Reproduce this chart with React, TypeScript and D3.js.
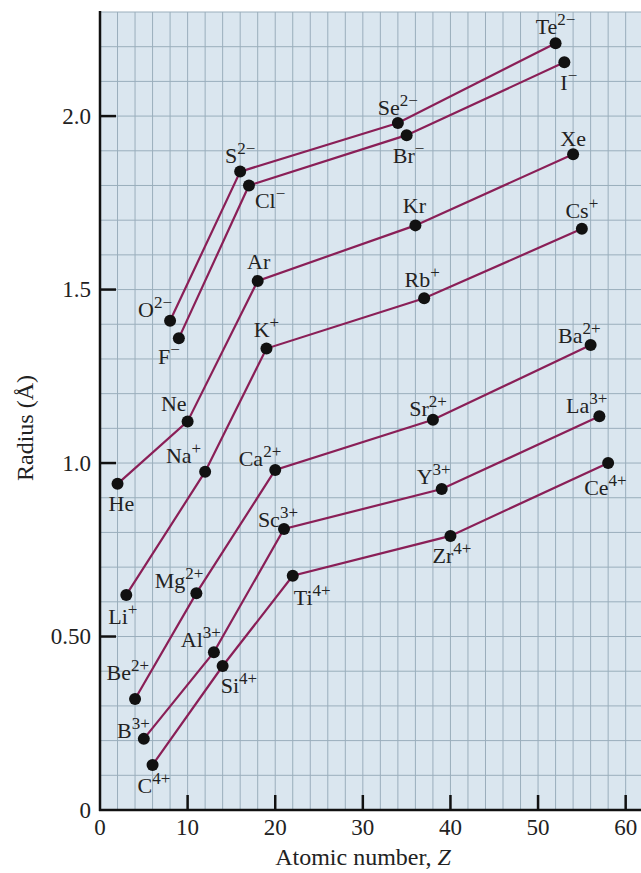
import React from 'react';
import * as d3 from 'd3';

// Ionic and atomic radii vs atomic number, one array set per series
const symDi = ['O', 'S', 'Se', 'Te'];
const zDi = [8, 16, 34, 52];
const rDi = [1.41, 1.84, 1.98, 2.21];

const symMono = ['F', 'Cl', 'Br', 'I'];
const zMono = [9, 17, 35, 53];
const rMono = [1.36, 1.8, 1.945, 2.155];

const symNoble = ['He', 'Ne', 'Ar', 'Kr', 'Xe'];
const zNoble = [2, 10, 18, 36, 54];
const rNoble = [0.94, 1.12, 1.525, 1.685, 1.89];

const symPlus1 = ['Li', 'Na', 'K', 'Rb', 'Cs'];
const zPlus1 = [3, 12, 19, 37, 55];
const rPlus1 = [0.62, 0.975, 1.33, 1.475, 1.675];

const symPlus2 = ['Be', 'Mg', 'Ca', 'Sr', 'Ba'];
const zPlus2 = [4, 11, 20, 38, 56];
const rPlus2 = [0.32, 0.625, 0.98, 1.125, 1.34];

const symPlus3 = ['B', 'Al', 'Sc', 'Y', 'La'];
const zPlus3 = [5, 13, 21, 39, 57];
const rPlus3 = [0.205, 0.455, 0.81, 0.925, 1.135];

const symPlus4 = ['C', 'Si', 'Ti', 'Zr', 'Ce'];
const zPlus4 = [6, 14, 22, 40, 58];
const rPlus4 = [0.13, 0.415, 0.675, 0.79, 1.0];

const charges = ['2−', '−', '', '+', '2+', '3+', '4+'];

const xTicks = [0, 10, 20, 30, 40, 50, 60];
const yTicks = [0, 0.5, 1.0, 1.5, 2.0];
const yTickLabels = ['0', '0.50', '1.0', '1.5', '2.0'];

const series = [
  [symDi, zDi, rDi],
  [symMono, zMono, rMono],
  [symNoble, zNoble, rNoble],
  [symPlus1, zPlus1, rPlus1],
  [symPlus2, zPlus2, rPlus2],
  [symPlus3, zPlus3, rPlus3],
  [symPlus4, zPlus4, rPlus4],
].map(([s, z, r], i) =>
  (s as string[]).map((sym, j) => ({ sym, charge: charges[i], z: (z as number[])[j], r: (r as number[])[j] }))
);

// label placement: anchor, dx, dy (baseline) relative to the dot
const labelPos: Record<string, [string, number, number]> = {
  Te: ['middle', 0, -9], I: ['start', -4, 28], Se: ['middle', 0, -8], Br: ['middle', 2, 28],
  S: ['middle', 0, -9], Cl: ['start', 6, 23], O: ['end', 2, -4], F: ['end', 1, 26],
  He: ['start', -9, 27], Ne: ['end', -1, -10], Ar: ['middle', 1, -12], Kr: ['middle', -1, -12],
  Xe: ['middle', 0, -8], Li: ['start', -18, 29], Na: ['end', -4, -9], K: ['middle', 0, -12],
  Rb: ['middle', -2, -11], Cs: ['middle', 0, -11], Be: ['end', 14, -19], Mg: ['end', 7, -5],
  Ca: ['end', 6, -4], Sr: ['end', 14, -4], Ba: ['end', 10, -2], B: ['end', 6, -1],
  Al: ['end', 7, -5], Sc: ['end', 14, -2], Y: ['end', 9, -5], La: ['end', 8, -3],
  C: ['start', -15, 28], Si: ['start', -2, 27], Ti: ['start', 1, 29], Zr: ['start', -18, 27],
  Ce: ['start', -24, 32],
};

const W = 641;
const H = 873;
const left = 100;
const bottom = 810;
const top = 12;

const App = () => {
  const x = d3.scaleLinear().domain([0, 61.75]).range([left, W]);
  const y = d3.scaleLinear().domain([0, 2.3]).range([bottom, top]);
  const line = d3
    .line<{ z: number; r: number }>()
    .x(d => x(d.z))
    .y(d => y(d.r));

  const vGrid = d3.range(2, 62, 2);
  const hGrid = d3.range(1, 24).map(d => d / 10);
  const font = '"Liberation Serif", "Times New Roman", serif';
  const lineColor = '#8a1f57';

  return (
    <svg width={W} height={H} style={{ position: 'absolute', left: 0, top: 0, background: '#fff' }} fontFamily={font}>
      <rect x={left} y={top} width={W - left} height={bottom - top} fill="#dae6ef" />
      {vGrid.map(v => (
        <line key={'v' + v} x1={x(v)} x2={x(v)} y1={top} y2={bottom} stroke="#9aaebc" strokeWidth={1} />
      ))}
      {hGrid.map(v => (
        <line key={'h' + v} x1={left} x2={W} y1={y(v)} y2={y(v)} stroke="#9aaebc" strokeWidth={1} />
      ))}

      {/* axes */}
      <line x1={left} x2={left} y1={top - 1} y2={bottom + 1} stroke="#111" strokeWidth={2.5} />
      <line x1={left - 1} x2={W} y1={bottom} y2={bottom} stroke="#111" strokeWidth={2.5} />
      {xTicks.map(t => (
        <g key={'xt' + t}>
          {t > 0 && <line x1={x(t)} x2={x(t)} y1={bottom} y2={bottom - 15} stroke="#111" strokeWidth={2.5} />}
          <text x={x(t)} y={835} fontSize={23} textAnchor="middle" fill="#222">{t}</text>
        </g>
      ))}
      {yTicks.map((t, i) => (
        <g key={'yt' + t}>
          {t > 0 && <line x1={left} x2={left + 16} y1={y(t)} y2={y(t)} stroke="#111" strokeWidth={2.5} />}
          <text x={91} y={y(t)} dy="0.34em" fontSize={23} textAnchor="end" fill="#222">{yTickLabels[i]}</text>
        </g>
      ))}
      <text x={363} y={865} fontSize={24} textAnchor="middle" fill="#222">
        Atomic number, <tspan fontStyle="italic">Z</tspan>
      </text>
      <text transform="translate(33,428) rotate(-90)" fontSize={24} textAnchor="middle" fill="#222">
        Radius (Å)
      </text>

      {/* series */}
      {series.map((s, i) => (
        <path key={'l' + i} d={line(s) || ''} fill="none" stroke={lineColor} strokeWidth={2.2} />
      ))}
      {series.flat().map(d => (
        <circle key={'c' + d.sym} cx={x(d.z)} cy={y(d.r)} r={6} fill="#111" />
      ))}
      {series.flat().map(d => {
        const [anchor, dx, dy] = labelPos[d.sym];
        return (
          <text
            key={'t' + d.sym}
            x={x(d.z) + dx}
            y={y(d.r) + dy}
            fontSize={22}
            textAnchor={anchor}
            fill="#222"
          >
            {d.sym}
            {d.charge && (
              <tspan fontSize={17} dy={-9}>
                {d.charge}
              </tspan>
            )}
          </text>
        );
      })}
    </svg>
  );
};

export default App;
